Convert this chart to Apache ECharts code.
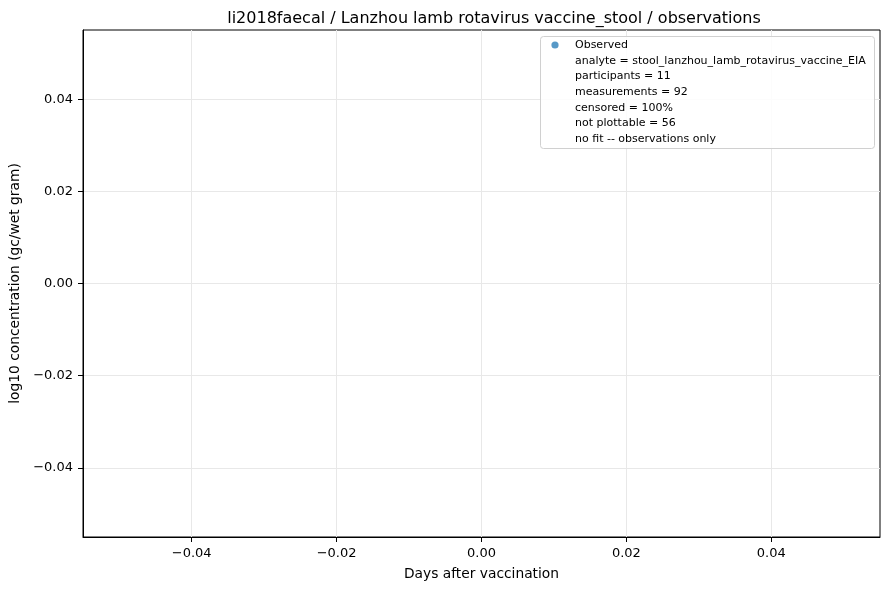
<!DOCTYPE html>
<html>
<head>
<meta charset="utf-8">
<script src="https://cdn.jsdelivr.net/npm/echarts@6/dist/echarts.min.js"></script>
<style>
  html, body { margin: 0; padding: 0; background: #fff; }
  #chart { width: 889px; height: 590px; }
</style>
</head>
<body>
<div id="chart"></div>
<script>
// no plottable points: every measurement was censored
const observedPoints = [];
const xTicks = [-0.04, -0.02, 0, 0.02, 0.04];
const yTicks = [-0.04, -0.02, 0, 0.02, 0.04];
const axisRange = [-0.055, 0.055];
const legendLines = [
  'analyte = stool_lanzhou_lamb_rotavirus_vaccine_EIA',
  'participants = 11',
  'measurements = 92',
  'censored = 100%',
  'not plottable = 56',
  'no fit -- observations only'
];

const FONT = '"DejaVu Sans", sans-serif';
const fmt = v => v.toFixed(2).replace('-', '\u2212');

const chart = echarts.init(document.getElementById('chart'));

function axis(ticks, name, extra) {
  return Object.assign({
    type: 'value',
    min: axisRange[0],
    max: axisRange[1],
    name: name,
    nameLocation: 'middle',
    nameTextStyle: { color: '#000', fontSize: 13.8, fontFamily: FONT },
    axisLine: { show: true, onZero: false, lineStyle: { color: '#000', width: 1 } },
    axisTick: { show: true, customValues: ticks, length: 5, lineStyle: { color: '#000' } },
    axisLabel: { customValues: ticks, formatter: fmt, color: '#000', fontSize: 13, fontFamily: FONT, margin: 10 },
    splitLine: { show: true, lineStyle: { color: '#e8e8e8', width: 1 } }
  }, extra);
}

// legend box, drawn by hand so the extra info lines sit under "Observed"
const legendGraphics = [
  { type: 'rect', z: 100, left: 540, top: 36, shape: { width: 334, height: 112, r: 3 },
    style: { fill: 'rgba(255,255,255,0.85)', stroke: '#d0d0d0', lineWidth: 1 } },
  { type: 'circle', z: 101, shape: { cx: 555, cy: 45, r: 3.6 }, style: { fill: '#1f77b4', opacity: 0.75 } },
  { type: 'text', z: 101, x: 575, y: 45, style: { text: 'Observed', fontSize: 11, fontFamily: FONT, fill: '#000', verticalAlign: 'middle' } }
];
legendLines.forEach((t, i) => {
  legendGraphics.push({ type: 'text', z: 101, x: 575, y: 61 + i * 15.6,
    style: { text: t, fontSize: 11, fontFamily: FONT, fill: '#000', verticalAlign: 'middle' } });
});

chart.setOption({
  animation: false,
  backgroundColor: '#fff',
  title: {
    text: 'li2018faecal / Lanzhou lamb rotavirus vaccine_stool / observations',
    left: 489, top: 6, textAlign: 'center',
    textStyle: { color: '#000', fontSize: 16, fontWeight: 'normal', fontFamily: FONT }
  },
  grid: { left: 83, right: 9, top: 30, bottom: 53, show: true, borderColor: '#000', borderWidth: 1 },
  xAxis: axis(xTicks, 'Days after vaccination', { nameGap: 30 }),
  yAxis: axis(yTicks, 'log10 concentration (gc/wet gram)', { nameGap: 61 }),
  graphic: legendGraphics,
  series: [{
    name: 'Observed',
    type: 'scatter',
    data: observedPoints,
    symbolSize: 7,
    itemStyle: { color: '#1f77b4', opacity: 0.75 }
  }]
});
</script>
</body>
</html>
